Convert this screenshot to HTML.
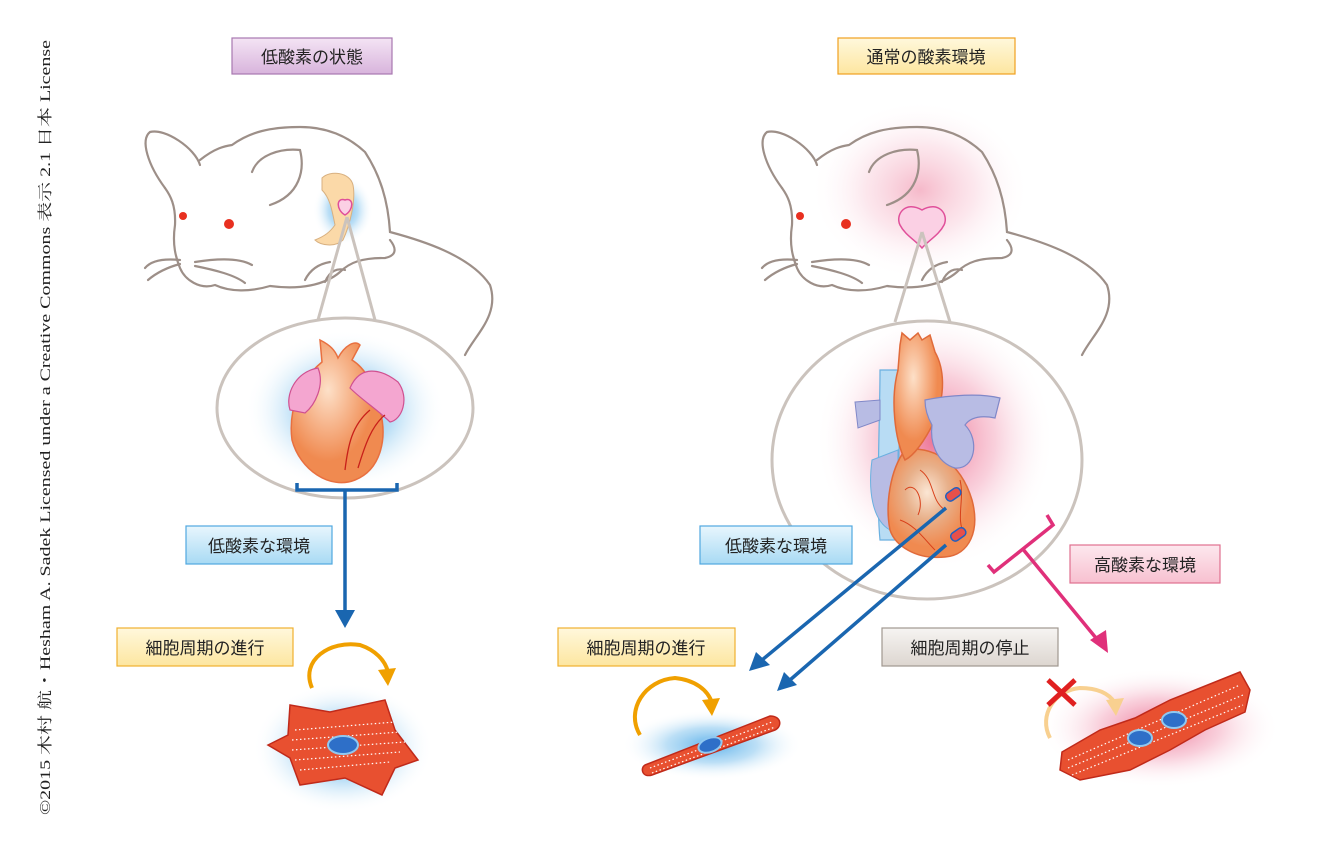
<!DOCTYPE html>
<html><head><meta charset="utf-8"><style>
html,body{margin:0;padding:0;background:#fff;}
svg{display:block;}
text{font-family:"Liberation Sans","Noto Sans CJK JP",sans-serif;}
</style></head><body>
<svg width="1323" height="852" viewBox="0 0 1323 852" xmlns="http://www.w3.org/2000/svg">
<defs>
<radialGradient id="gb"><stop offset="0" stop-color="#4aa8e8" stop-opacity="0.9"/><stop offset="0.5" stop-color="#8fcaf0" stop-opacity="0.6"/><stop offset="1" stop-color="#fff" stop-opacity="0"/></radialGradient>
<radialGradient id="gp"><stop offset="0" stop-color="#e8507a" stop-opacity="0.8"/><stop offset="0.5" stop-color="#f3a0b8" stop-opacity="0.5"/><stop offset="1" stop-color="#fff" stop-opacity="0"/></radialGradient>
<radialGradient id="heart" cx="0.4" cy="0.35"><stop offset="0" stop-color="#fde0c8"/><stop offset="1" stop-color="#f08a50"/></radialGradient>
<radialGradient id="heart2" cx="0.45" cy="0.4"><stop offset="0" stop-color="#fbe6d4"/><stop offset="0.5" stop-color="#e8b08a"/><stop offset="1" stop-color="#f08a50"/></radialGradient>
<linearGradient id="lp" x1="0" y1="0" x2="0" y2="1"><stop offset="0" stop-color="#f4e4f4"/><stop offset="1" stop-color="#d8b4dc"/></linearGradient>
<linearGradient id="ly" x1="0" y1="0" x2="0" y2="1"><stop offset="0" stop-color="#fff8dc"/><stop offset="1" stop-color="#fde6a0"/></linearGradient>
<linearGradient id="lb" x1="0" y1="0" x2="0" y2="1"><stop offset="0" stop-color="#e8f6fd"/><stop offset="1" stop-color="#a8daf4"/></linearGradient>
<linearGradient id="lk" x1="0" y1="0" x2="0" y2="1"><stop offset="0" stop-color="#fde8ee"/><stop offset="1" stop-color="#f7c0d0"/></linearGradient>
<linearGradient id="lg" x1="0" y1="0" x2="0" y2="1"><stop offset="0" stop-color="#f6f4f2"/><stop offset="1" stop-color="#ddd6d0"/></linearGradient>
<g id="mouse" fill="none" stroke="#9d8f88" stroke-width="2.2" stroke-linecap="round">
<path d="M200,160 C215,148 225,146 232,145 C250,132 270,127 300,127 C330,127 350,138 365,152 C380,175 388,200 390,232 C420,240 470,255 490,285 C500,315 475,335 465,355"/>
<path d="M390,240 C398,250 395,256 385,258 C362,258 350,262 340,272 C325,285 300,290 270,286 C250,292 230,292 215,285 C200,290 185,280 180,268 C176,258 172,245 175,225 C176,205 170,195 165,188"/>
<path d="M165,188 C148,165 140,140 150,132 C165,128 195,148 200,165"/>
<path d="M252,172 C258,155 280,148 300,150 C305,170 300,195 270,205"/>
<path d="M305,280 C310,270 318,264 330,262 M325,282 C330,270 338,268 345,270"/>
<path d="M180,260 C160,258 150,262 145,268 M180,264 C165,268 155,274 148,280 M195,262 C220,258 240,258 252,265 M195,266 C215,270 235,275 245,283"/>
</g>
</defs>

<text transform="translate(50,815) rotate(-90)" font-size="15" fill="#222" style="font-family:'Liberation Serif','Noto Serif CJK SC',serif" textLength="775" lengthAdjust="spacingAndGlyphs">©2015 木村 航・Hesham A. Sadek Licensed under a Creative Commons 表示 2.1 日本 License</text>

<rect x="232" y="38" width="160" height="36" fill="url(#lp)" stroke="#a878b0" stroke-width="1.2"/>
<text x="312" y="63" font-size="17" text-anchor="middle" fill="#222">低酸素の状態</text>
<rect x="838" y="38" width="177" height="36" fill="url(#ly)" stroke="#f0a020" stroke-width="1.2"/>
<text x="926" y="63" font-size="17" text-anchor="middle" fill="#222">通常の酸素環境</text>

<ellipse cx="343" cy="210" rx="30" ry="35" fill="url(#gb)"/>
<ellipse cx="920" cy="190" rx="110" ry="90" fill="url(#gp)" opacity="0.5"/>
<ellipse cx="345" cy="410" rx="100" ry="80" fill="url(#gb)"/>
<ellipse cx="935" cy="440" rx="120" ry="130" fill="url(#gp)"/>

<use href="#mouse"/>
<use href="#mouse" transform="translate(617,0)"/>
<circle cx="183" cy="216" r="4" fill="#e83020"/><circle cx="229" cy="224" r="5" fill="#e83020"/>
<circle cx="800" cy="216" r="4" fill="#e83020"/><circle cx="846" cy="224" r="5" fill="#e83020"/>
<path d="M322,178 C330,170 350,172 353,185 C356,200 350,225 343,240 C335,248 320,245 315,240 C325,236 330,232 335,225 C332,210 330,198 322,190 Z" fill="#fbd9a8" stroke="#d8b080" stroke-width="1"/>
<path d="M345,200 C336,197 336,210 345,215 C354,210 354,197 345,200 Z" fill="#fbd0e4" stroke="#e0509a" stroke-width="1.5"/>
<path d="M922,210 C905,200 895,215 900,225 C905,235 915,240 922,248 C929,240 939,235 944,225 C949,215 939,200 922,210 Z" fill="#fbd0e4" stroke="#e0509a" stroke-width="1.5"/>

<g fill="none" stroke="#cbc3bd" stroke-width="3">
<path d="M347,217 L318,320 M347,217 L375,320"/>
<path d="M922,232 L895,322 M922,232 L950,322"/>
<ellipse cx="345" cy="408" rx="128" ry="90"/>
<ellipse cx="927" cy="460" rx="155" ry="139"/>
</g>

<!-- left heart -->
<path d="M320,340 C330,345 335,350 338,358 C345,345 355,340 360,345 L352,360 C365,368 375,385 380,410 C388,440 380,470 355,480 C330,490 300,470 292,440 C288,410 300,380 322,362 Z" fill="url(#heart)" stroke="#e87040" stroke-width="1.5"/>
<path d="M290,410 C285,395 295,372 318,368 C325,385 315,405 305,413 Z" fill="#f4a6d0" stroke="#d05090" stroke-width="1.2"/>
<path d="M350,388 C360,365 380,368 398,382 C410,398 402,420 390,422 C378,410 362,400 350,388 Z" fill="#f4a6d0" stroke="#d05090" stroke-width="1.2"/>
<path d="M345,470 C348,445 352,425 370,410 M358,468 C365,445 372,425 385,415" stroke="#c8201a" fill="none" stroke-width="1.3"/>

<!-- right heart -->
<path d="M880,370 L900,370 L898,540 L880,540 C876,500 880,420 880,370 Z" fill="#b8dcf4" stroke="#6ab0e0" stroke-width="1.2"/>
<path d="M872,460 C868,490 872,520 890,530 L898,520 L898,450 Z" fill="#b8bce4" stroke="#6ab0e0" stroke-width="1"/>
<path d="M905,450 C930,445 960,460 972,500 C980,530 970,555 945,557 C915,560 895,545 890,530 C885,505 890,470 905,450 Z" fill="url(#heart2)" stroke="#e06a3a" stroke-width="1.5"/>
<path d="M900,345 L902,333 L910,340 L918,333 L922,340 L930,335 L935,352 C945,370 945,395 935,420 C925,440 915,455 905,460 C895,440 890,400 898,370 Z" fill="url(#heart)" stroke="#e06a3a" stroke-width="1.5"/>
<path d="M855,402 L880,400 L880,420 L858,428 Z" fill="#b8bce4" stroke="#8088c8" stroke-width="1"/>
<path d="M925,400 C950,395 980,393 1000,398 L995,418 C980,415 970,418 965,425 C980,440 975,470 955,468 C935,462 930,440 932,425 C928,418 925,410 925,400 Z" fill="#b8bce4" stroke="#8088c8" stroke-width="1.2"/>
<path d="M905,490 C915,480 925,500 918,515 M920,470 C935,480 930,500 945,510 M960,480 C965,500 955,520 965,535 M900,520 C915,525 925,540 935,550" stroke="#d8401a" fill="none" stroke-width="1"/>
<rect x="945" y="490" width="16" height="9" rx="4" transform="rotate(-35 953 494)" fill="#e8504a" stroke="#2060c0" stroke-width="1.5"/>
<rect x="950" y="530" width="16" height="9" rx="4" transform="rotate(-35 958 534)" fill="#e8504a" stroke="#2060c0" stroke-width="1.5"/>

<g stroke="#1a66b0" stroke-width="3.5" fill="none">
<path d="M297,483 L297,490 L397,490 L397,483 M345,490 L345,612"/>
<path d="M946,508 L762,660"/>
<path d="M946,545 L790,680"/>
</g>
<polygon points="335,610 355,610 345,628" fill="#1a66b0"/>
<polygon points="749,671 756,652 770,665" fill="#1a66b0"/>
<polygon points="777,691 784,672 797,685" fill="#1a66b0"/>
<g stroke="#e0307a" stroke-width="3.5" fill="none">
<path d="M988,565 L994,572 L1053,525 L1047,515 M1022,548 L1096,638"/>
</g>
<polygon points="1090,640 1106,630 1108,653" fill="#e0307a"/>

<rect x="186" y="526" width="146" height="38" fill="url(#lb)" stroke="#50a8e0" stroke-width="1.2"/>
<text x="259" y="552" font-size="17" text-anchor="middle" fill="#222">低酸素な環境</text>
<rect x="700" y="526" width="152" height="38" fill="url(#lb)" stroke="#50a8e0" stroke-width="1.2"/>
<text x="776" y="552" font-size="17" text-anchor="middle" fill="#222">低酸素な環境</text>
<rect x="1070" y="545" width="150" height="38" fill="url(#lk)" stroke="#e0708f" stroke-width="1.2"/>
<text x="1145" y="571" font-size="17" text-anchor="middle" fill="#222">高酸素な環境</text>
<rect x="117" y="628" width="176" height="38" fill="url(#ly)" stroke="#f0b030" stroke-width="1.2"/>
<text x="205" y="654" font-size="17" text-anchor="middle" fill="#222">細胞周期の進行</text>
<rect x="558" y="628" width="177" height="38" fill="url(#ly)" stroke="#f0b030" stroke-width="1.2"/>
<text x="646" y="654" font-size="17" text-anchor="middle" fill="#222">細胞周期の進行</text>
<rect x="882" y="628" width="176" height="38" fill="url(#lg)" stroke="#a09890" stroke-width="1.2"/>
<text x="970" y="654" font-size="17" text-anchor="middle" fill="#222">細胞周期の停止</text>

<ellipse cx="343" cy="748" rx="90" ry="65" fill="url(#gb)"/>
<path d="M290,705 L330,712 L385,700 L395,730 L418,760 L395,768 L382,795 L345,778 L300,785 L290,758 L268,745 L288,735 Z" fill="#e85030" stroke="#c02a1a" stroke-width="1.5"/>
<g stroke="#fff" stroke-width="1.2" stroke-dasharray="1.5 2.5"><path d="M295,730 L395,722 M292,740 L400,732 M292,750 L405,742 M295,760 L400,752 M300,770 L390,762"/></g>
<ellipse cx="343" cy="745" rx="15" ry="9" fill="#2e6fc8" stroke="#90c8f0" stroke-width="2"/>
<path d="M312,688 C300,660 330,640 360,645 C375,650 385,660 388,672" stroke="#f0a000" stroke-width="4" fill="none"/>
<polygon points="378,670 396,668 388,686" fill="#f0a000"/>

<ellipse cx="712" cy="745" rx="90" ry="35" fill="url(#gb)"/>
<path d="M645,765 L770,716 C782,716 782,727 775,730 L652,775 C642,778 640,768 645,765 Z" fill="#e85030" stroke="#c02a1a" stroke-width="1.5"/>
<g stroke="#fff" stroke-width="1.2" stroke-dasharray="1.5 2.5"><path d="M650,768 L772,722 M652,773 L775,727"/></g>
<ellipse cx="710" cy="745" rx="12" ry="7" transform="rotate(-20 710 745)" fill="#2e6fc8" stroke="#90c8f0" stroke-width="2"/>
<path d="M640,735 C625,710 645,680 675,678 C695,680 708,690 712,703" stroke="#f0a000" stroke-width="4" fill="none"/>
<polygon points="702,700 720,698 712,716" fill="#f0a000"/>

<ellipse cx="1160" cy="728" rx="120" ry="60" fill="url(#gp)"/>
<path d="M1062,752 L1100,730 L1135,718 L1170,700 L1240,672 L1250,690 L1245,712 L1205,730 L1170,750 L1130,770 L1080,780 L1060,770 Z" fill="#e85030" stroke="#c02a1a" stroke-width="1.5"/>
<g stroke="#fff" stroke-width="1.2" stroke-dasharray="1.5 2.5"><path d="M1068,760 L1240,685 M1068,768 L1243,695 M1072,775 L1243,705"/></g>
<ellipse cx="1140" cy="738" rx="12" ry="8" fill="#2e6fc8" stroke="#90c8f0" stroke-width="2"/>
<ellipse cx="1174" cy="720" rx="12" ry="8" fill="#2e6fc8" stroke="#90c8f0" stroke-width="2"/>
<path d="M1050,738 C1038,715 1055,690 1080,688 C1100,688 1110,695 1115,703" stroke="#f8d090" stroke-width="4" fill="none"/>
<polygon points="1106,700 1124,698 1116,716" fill="#f8d090"/>
<path d="M1048,680 L1075,705 M1075,680 L1048,705" stroke="#e02020" stroke-width="5"/>
</svg>
</body></html>
